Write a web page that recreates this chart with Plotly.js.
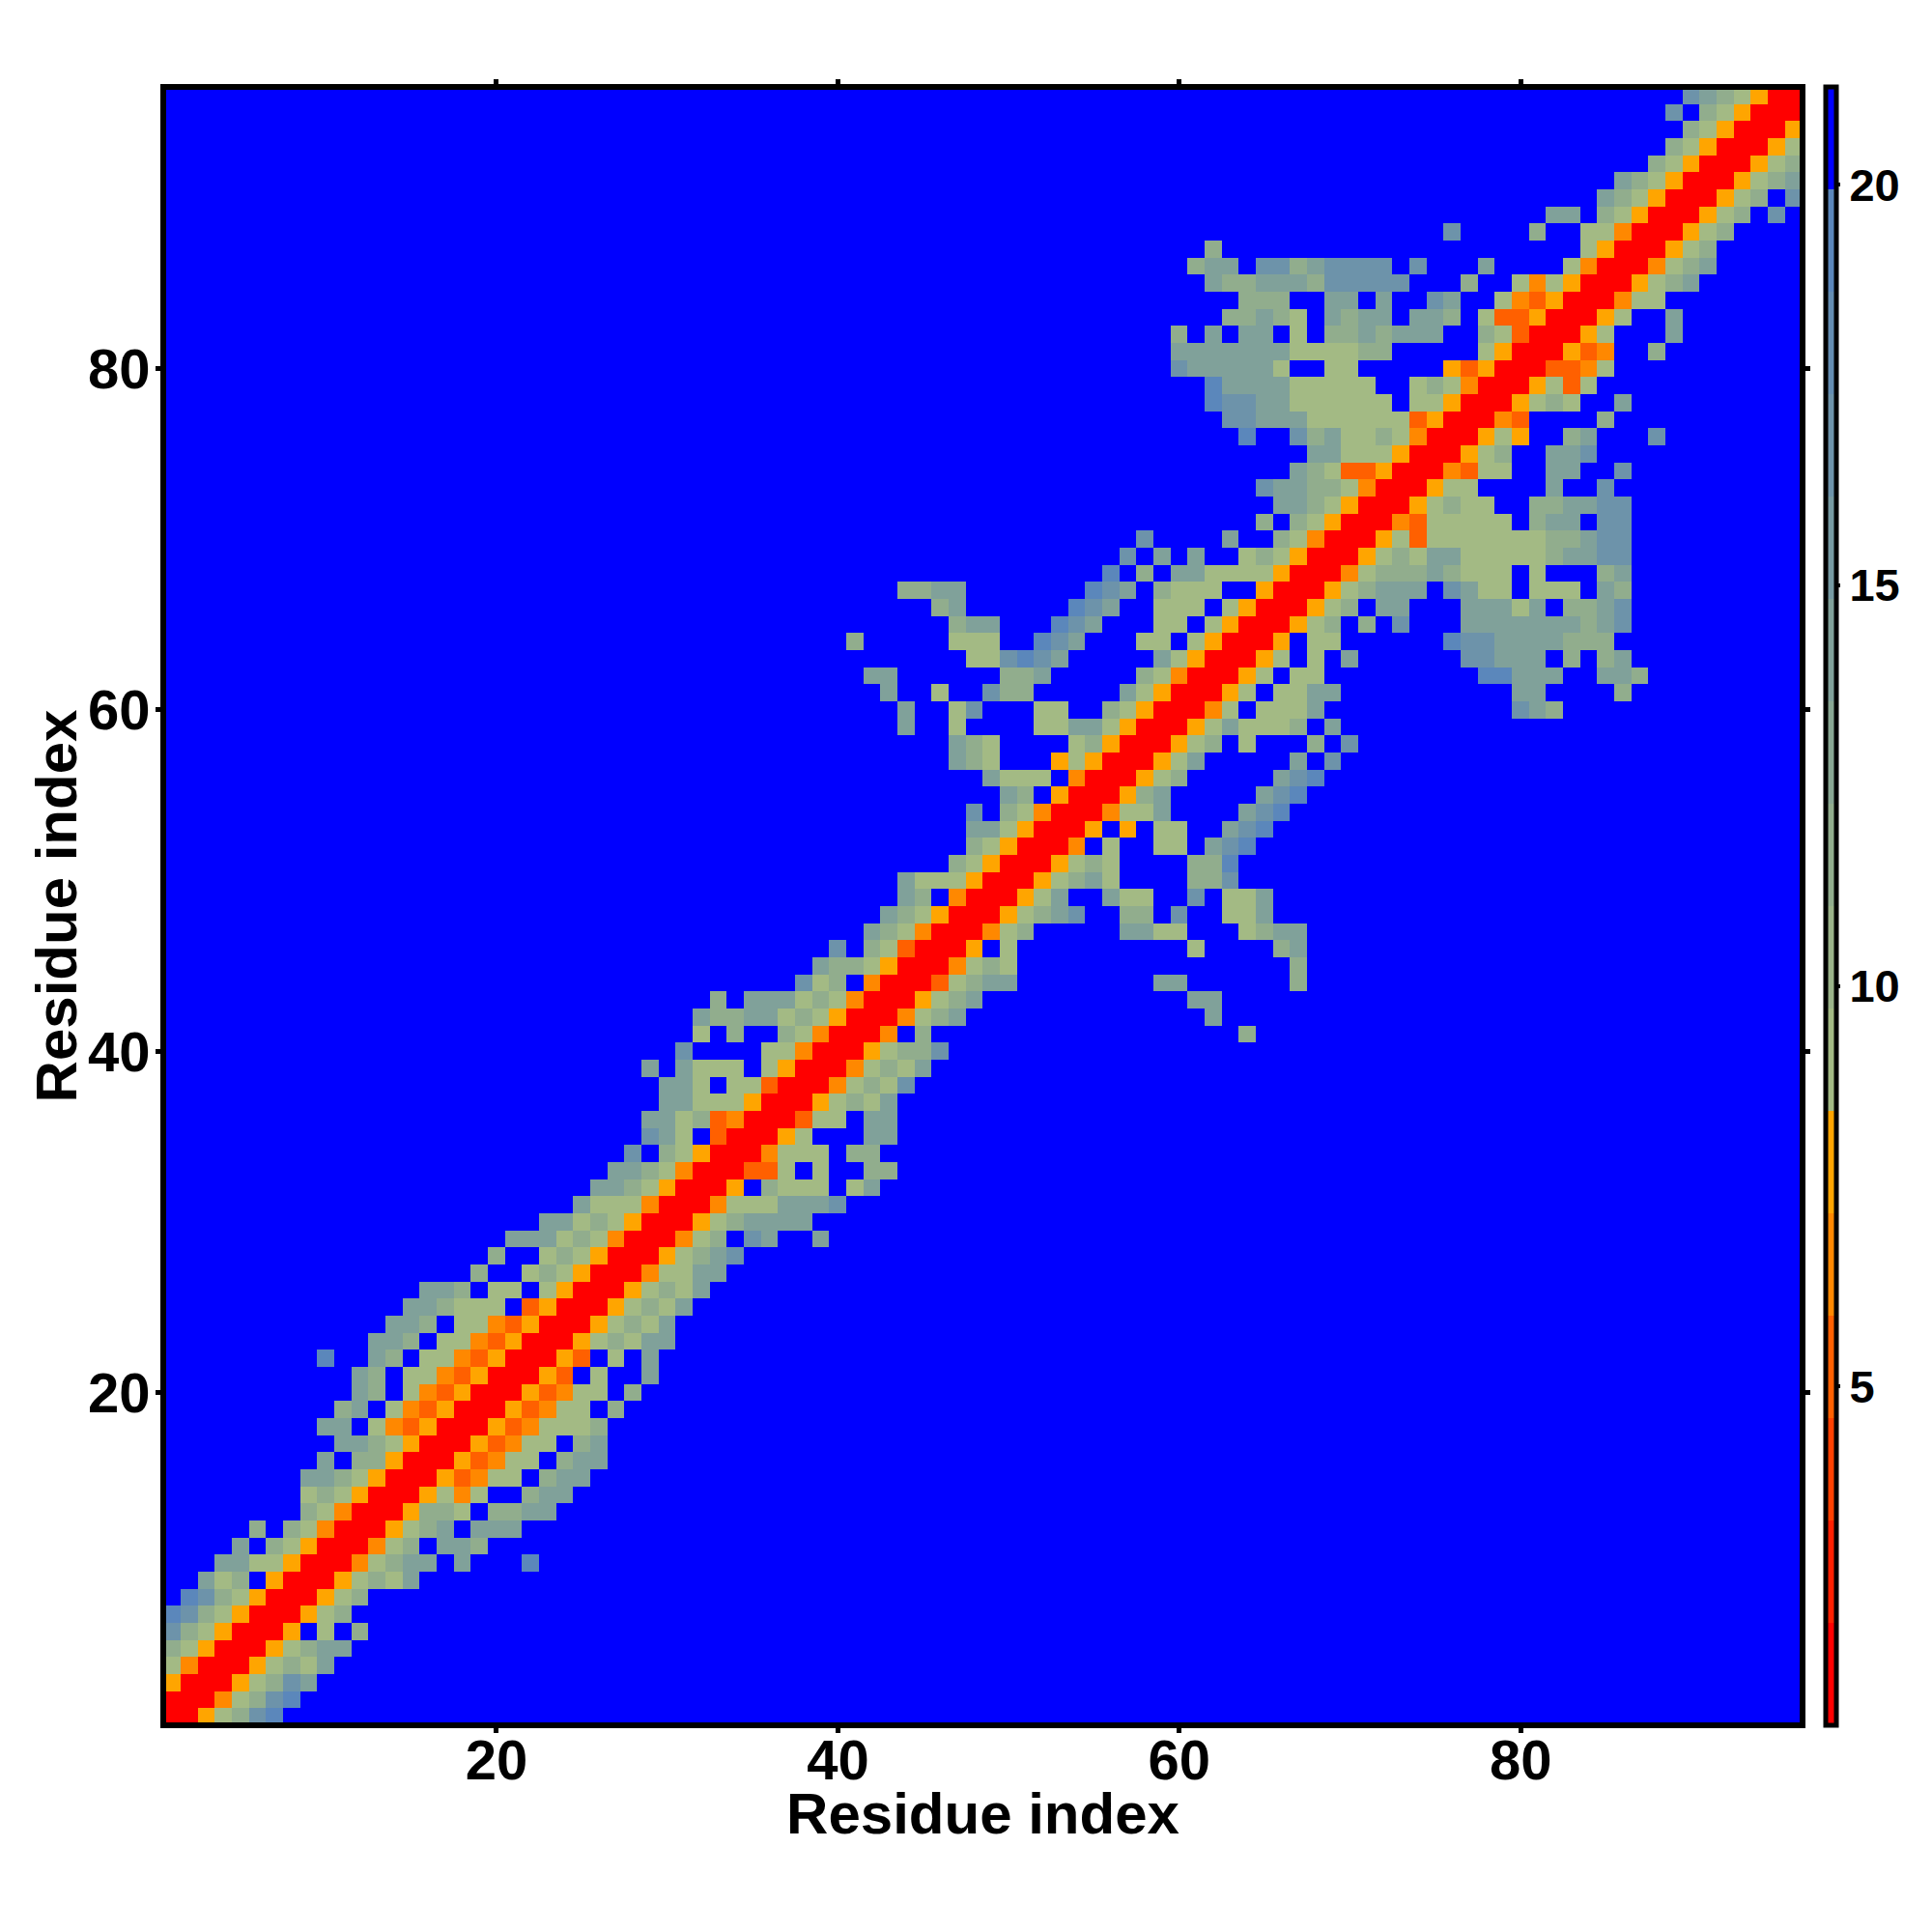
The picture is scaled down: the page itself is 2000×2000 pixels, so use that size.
<!DOCTYPE html>
<html>
<head>
<meta charset="utf-8">
<script src="https://cdn.plot.ly/plotly-3.0.1.min.js"></script>
<style>html,body{margin:0;padding:0;background:#fff}</style>
</head>
<body>
<div id="chart" style="width:2000px;height:2000px"></div>
<script>
// Residue count and the colour band edges
const residueCount = 96;
const zMin = 0.77, zMax = 21.22;
const bandColors = ["#ff0000","#ff2000","#ff4000","#ff6000","#ff8800","#ffa500",
  "#a3ba84","#9ab389","#91ad8d","#88a793","#80a19a","#769aa2","#6d93aa","#648db2","#5b87bb","#0000ff"];
// Distance-map codes -> band number
const codeBand = {R:0, X:3, O:4, A:5, a:6, b:8, c:10, d:12, e:14};
const colorbarTicks = [5,10,15,20];
const axisTicks = [20,40,60,80];
// Upper triangle of the symmetric map. "col:codes" segments per row; '.' and anything absent is far (blue)
const triangleRows = [
"1:RRAabde","2:RROabde","3:RRAabdc","4:RRAabac","5:RRAabcc","6:RRA.a.b","7:RRAab","8:RRAab",
"9:RRAabac","10:RROabcc.c 22:e","11:RROab.ccb","12:RRAabc.ccc","13:RRAbba.bbcc","14:RRAaOa..bcc",
"15:RRAXOaa.bcc","16:RRAXOaa.bcc","17:RRAXOaa.bc","18:RRAXOaaab","19:RRAXOaa.b","20:RRAXOaa.b",
"21:RRAX.a..c","22:RRAX.a.c","23:RRAabacc","24:RRAabac","25:RRAabac","26:RRAabac","27:RROaacc",
"28:RRAabcd","29:RROab.dc..c","30:RRAabcccc","31:RROaaacccd","32:RRA.baaa.ac","33:RRXXa.a..bb",
"34:RROaaa.bb","35:RRAa...cc","36:RRXaa.cc","37:RRAabac","38:RROabad","39:RROabac","40:RRAabbd",
"41:RRO.b 64:b","42:RROabc 62:c","43:RRAabc 61:cc","44:RRXabcc 59:cc 67:b","45:RROaba 67:b",
"46:RRA.a 61:a 66:bc","47:RROab 57:ccaa 64:abcc","48:RRAabcd 57:bb 60:d 63:aac",
"49:RRAac 56:caa 61:d 63:aac","50:RRAabca 61:bbd","51:RRAaba 61:bbe","52:RRO.a 59:aa 62:cde",
"53:RRA.A 59:aa 63:cde","54:RROaac 64:cde","55:RRAbc 65:cde","56:RRAab 66:cde","57:RRAac 67:c.d",
"58:RRAab 64:a 68:b.d","59:RRAacaaab.c","60:RROa.aaac 80:dcb","61:RRAa.aacc 80:cc 86:b",
"62:RRAa.aa 78:eeccc 85:ccb","63:RRAa.a.c 77:ddccc.b.bc","64:RRA.aa 76:eddccccbbb",
"65:RRAab.b.d 77:cccccccbcd","66:RRAab.cc 77:cccac.bbcd","67:RRAabccc.dcaa.aaa.cb",
"68:RROabbbcbaaa.a...bc","69:RRAabaccaaaaabccdd","70:RRAaXaaaaaaabbcdd","71:RROXaaaaa.bcc.dd",
"72:RRAabaa..bbccdd","73:RRAaa....c..d","74:RROXaa..cc..d","75:RRAab..ccd","76:RRAaA..bc 88:d",
"77:RROX 85:b","78:RRAaba 86:c","79:RRAaXa","80:RRXXOa","81:RRAXO 88:b","82:RRAa 89:c","83:RRAa 89:c",
"84:RROaa","85:RRAabc","86:RROabc","87:RRAab","88:RRAab","89:RRAab.d","90:RRAab.d","91:RRAabc",
"92:RRAab","93:RRAa","94:RRA","95:RR","96:R"
];

const bandWidth = (zMax - zMin) / bandColors.length;
const bandValue = k => zMin + (k + 0.5) * bandWidth;
const residues = Array.from({length: residueCount}, (_, i) => i + 1);
const z = residues.map(() => residues.map(() => bandValue(15)));
triangleRows.forEach((row, r) => {
  row.split(" ").forEach(seg => {
    const [col, codes] = seg.split(":");
    [...codes].forEach((ch, k) => {
      if (ch === ".") return;
      const c = +col - 1 + k;
      const v = bandValue(codeBand[ch]);
      z[r][c] = v; z[c][r] = v;
    });
  });
});
const colorscale = [];
bandColors.forEach((col, k) => {
  colorscale.push([k / bandColors.length, col]);
  colorscale.push([(k + 1) / bandColors.length, col]);
});
const FONT = "Liberation Sans, Arial, sans-serif";
const axisBase = {
  tickmode: "array", tickvals: axisTicks, ticktext: axisTicks.map(String),
  ticks: "outside", ticklen: 5, tickwidth: 5, tickcolor: "#000",
  showline: true, linecolor: "#000", linewidth: 6, mirror: "ticks",
  showgrid: false, zeroline: false,
  tickfont: {family: FONT, size: 58, color: "#000", weight: 700}
};
Plotly.newPlot("chart", [{
  type: "heatmap", x: residues, y: residues, z: z,
  zmin: zMin, zmax: zMax, zsmooth: false, colorscale: colorscale,
  hoverinfo: "skip",
  colorbar: {
    thickness: 11, thicknessmode: "pixels", len: 1696, lenmode: "pixels",
    x: 1.0157, xanchor: "left", xpad: 0, y: 0.5, yanchor: "middle", ypad: 0,
    outlinewidth: 5, outlinecolor: "#000", borderwidth: 0,
    tickmode: "array", tickvals: colorbarTicks, ticktext: colorbarTicks.map(String),
    ticks: "outside", ticklen: 2, tickwidth: 4, tickcolor: "#000",
    tickfont: {family: FONT, size: 47, color: "#000", weight: 700}
  }
}], {
  width: 2000, height: 2000,
  margin: {l: 172, r: 137, t: 93, b: 217, pad: 0},
  paper_bgcolor: "#fff", plot_bgcolor: "#00f",
  xaxis: Object.assign({}, axisBase, {
    range: [0.65, 96.34], ticklabelstandoff: -22,
    title: {text: "Residue index", standoff: 0, font: {family: FONT, size: 60, color: "#000", weight: 700}}
  }),
  yaxis: Object.assign({}, axisBase, {
    range: [0.68, 96.33], ticklabelstandoff: -6,
    title: {text: "Residue index", standoff: 0, font: {family: FONT, size: 60, color: "#000", weight: 700}}
  })
}, {displayModeBar: false, staticPlot: true}).then(() => {
  // The axis titles cannot sit this close to the labels through layout options alone.
  const nudge = (sel, dy) => {
    const t = document.querySelector(sel);
    if (t) t.setAttribute("y", +t.getAttribute("y") + dy);
  };
  nudge(".xtitle", -10);
  nudge(".ytitle", 6);
});
</script>
</body>
</html>
